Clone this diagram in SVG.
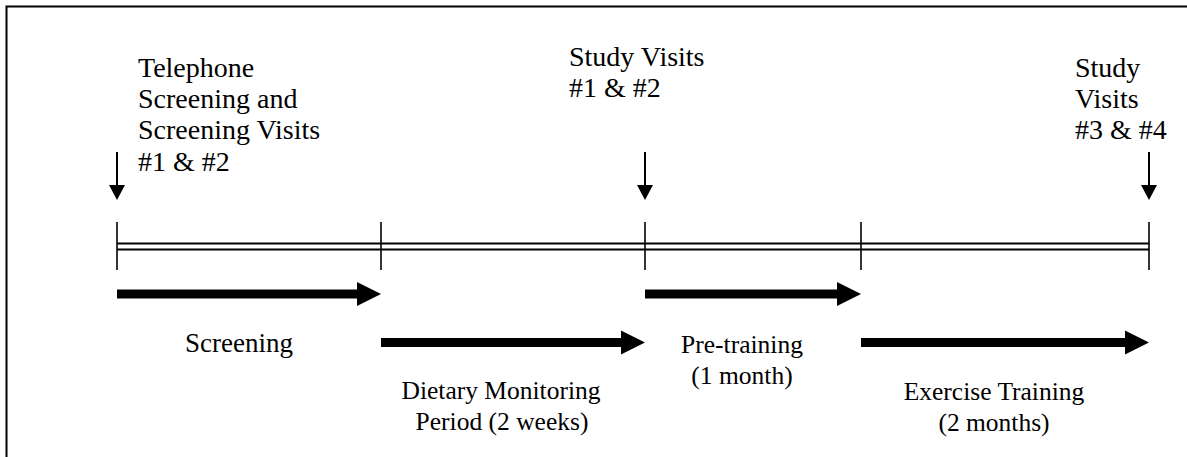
<svg xmlns="http://www.w3.org/2000/svg" width="1187" height="457" viewBox="0 0 1187 457">
<defs>
<style>
text{font-family:"Liberation Serif","Times New Roman",serif;font-size:25.5px;fill:#000}
.top{font-size:28px}
.big{font-size:27px}
.mid{text-anchor:middle}
.thin{stroke:#000;stroke-width:1.6;fill:none}
.dbl{stroke:#000;stroke-width:2;fill:none}
.frame{stroke:#000;stroke-width:2;fill:none}
.shaft{stroke:#000;stroke-width:9;fill:none}
.head{fill:#000}
</style>
</defs>
<rect width="1187" height="457" fill="#fff"/>
<path class="frame" d="M6.5,457 V6.5 H1187"/>

<g id="timeline">
<line class="dbl" x1="117" y1="243.5" x2="1149" y2="243.5"/>
<line class="dbl" x1="117" y1="249.5" x2="1149" y2="249.5"/>
<line class="thin" x1="117" y1="222" x2="117" y2="270"/>
<line class="thin" x1="381" y1="222" x2="381" y2="270"/>
<line class="thin" x1="645" y1="222" x2="645" y2="270"/>
<line class="thin" x1="861" y1="222" x2="861" y2="270"/>
<line class="thin" x1="1149" y1="222" x2="1149" y2="270"/>
</g>

<g id="connectors">
<g id="down-arrows">
<line class="dbl" x1="117" y1="152" x2="117" y2="187"/>
<polygon class="head" points="109,185 125,185 117,200"/>
<line class="dbl" x1="645" y1="152" x2="645" y2="187"/>
<polygon class="head" points="637,185 653,185 645,200"/>
<line class="dbl" x1="1149" y1="152" x2="1149" y2="187"/>
<polygon class="head" points="1141,185 1157,185 1149,200"/>
</g>
<g id="phase-arrows">
<line class="shaft" x1="117" y1="294" x2="359" y2="294"/>
<polygon class="head" points="357,282 381,294 357,306"/>
<line class="shaft" x1="381" y1="342.5" x2="623" y2="342.5"/>
<polygon class="head" points="621,330.5 645,342.5 621,354.5"/>
<line class="shaft" x1="645" y1="294" x2="839" y2="294"/>
<polygon class="head" points="837,282 861,294 837,306"/>
<line class="shaft" x1="861" y1="342.5" x2="1127" y2="342.5"/>
<polygon class="head" points="1125,330.5 1149,342.5 1125,354.5"/>
</g>
</g>

<g id="node-telephone" class="top">
<text class="top" x="138" y="77">Telephone</text>
<text class="top" x="138" y="108">Screening and</text>
<text class="top" x="138" y="139">Screening Visits</text>
<text class="top" x="138" y="171">#1 &amp; #2</text>
</g>
<g id="node-study12">
<text class="top" x="569" y="66">Study Visits</text>
<text class="top" x="569" y="97">#1 &amp; #2</text>
</g>
<g id="node-study34">
<text class="top" x="1075" y="77">Study</text>
<text class="top" x="1075" y="108">Visits</text>
<text class="top" x="1075" y="139">#3 &amp; #4</text>
</g>
<g id="node-screening">
<text class="big" x="185" y="352">Screening</text>
</g>
<g id="node-dietary">
<text class="mid" x="501" y="399">Dietary Monitoring</text>
<text class="mid" x="502" y="430">Period (2 weeks)</text>
</g>
<g id="node-pretraining">
<text class="mid" x="742" y="353">Pre-training</text>
<text class="mid" x="742" y="384">(1 month)</text>
</g>
<g id="node-exercise">
<text class="mid" x="994" y="400">Exercise Training</text>
<text class="mid" x="994" y="431">(2 months)</text>
</g>
</svg>
